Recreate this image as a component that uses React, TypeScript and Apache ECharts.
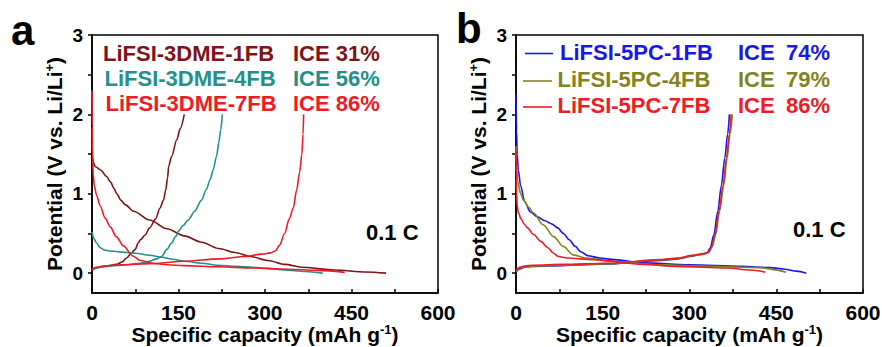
import React, { useEffect, useRef } from "react";
import * as echarts from "echarts";

// ---- Panel a: LiFSI-3DME-xFB (capacity mAh/g, potential V) ----
const a1fbDischarge = [[0, 1.62], [1, 1.45], [3, 1.38], [6, 1.34], [15, 1.3], [25, 1.22], [32, 1.15], [38, 1.07], [43, 1.0], [50, 0.92], [58, 0.86], [72, 0.78], [100, 0.67], [130, 0.56], [160, 0.47], [190, 0.39], [220, 0.31], [248, 0.26], [275, 0.21], [305, 0.16], [335, 0.11], [363, 0.075], [420, 0.04], [475, 0.015], [510, 0]];
const a1fbCharge = [[0, 0.04], [10, 0.07], [25, 0.09], [43, 0.11], [52, 0.14], [60, 0.19], [68, 0.25], [75, 0.3], [80, 0.38], [84, 0.42], [92, 0.48], [100, 0.57], [110, 0.68], [118, 0.82], [124, 0.92], [128, 1.05], [131, 1.2], [133, 1.35], [138, 1.47], [147, 1.68], [153, 1.82], [160, 2.0]];
const a4fbDischarge = [[0, 0.52], [3, 0.44], [8, 0.38], [14, 0.32], [22, 0.29], [30, 0.28], [45, 0.27], [60, 0.26], [75, 0.25], [100, 0.225], [121, 0.2], [140, 0.175], [161, 0.15], [190, 0.125], [219, 0.1], [250, 0.085], [277, 0.075], [305, 0.06], [334, 0.04], [370, 0.02], [400, 0]];
const a4fbCharge = [[0, 0.04], [10, 0.07], [25, 0.085], [50, 0.1], [80, 0.12], [100, 0.15], [112, 0.18], [121, 0.21], [130, 0.3], [138, 0.38], [145, 0.46], [150, 0.53], [158, 0.6], [167, 0.67], [178, 0.78], [190, 0.92], [198, 1.05], [205, 1.18], [210, 1.3], [216, 1.47], [220, 1.65], [223, 1.8], [226, 2.0]];
const a7fbDischarge = [[0, 2.3], [0.5, 1.85], [1, 1.5], [2, 1.25], [4, 1.1], [8, 0.98], [14, 0.85], [23, 0.69], [32, 0.58], [42, 0.46], [55, 0.34], [70, 0.22], [84, 0.16], [104, 0.125], [130, 0.105], [160, 0.095], [220, 0.08], [277, 0.065], [340, 0.05], [392, 0.035], [438, 0.01]];
const a7fbCharge = [[0, 0.04], [5, 0.07], [20, 0.09], [50, 0.105], [100, 0.12], [160, 0.15], [220, 0.18], [265, 0.21], [295, 0.24], [310, 0.255], [318, 0.28], [325, 0.35], [334, 0.5], [342, 0.68], [349, 0.82], [355, 1.05], [360, 1.27], [364, 1.5], [366, 1.75], [367, 2.0]];

// ---- Panel b: LiFSI-5PC-xFB ----
const b1fbDischarge = [[0, 2.25], [1, 1.8], [2, 1.5], [4, 1.3], [8, 1.1], [15, 0.9], [25, 0.77], [37, 0.71], [50, 0.66], [62, 0.62], [72, 0.57], [82, 0.5], [92, 0.42], [102, 0.34], [112, 0.27], [124, 0.22], [145, 0.19], [170, 0.17], [220, 0.13], [300, 0.105], [390, 0.085], [440, 0.07], [465, 0.05], [485, 0.025], [502, 0]];
const b1fbCharge = [[0, 0.01], [5, 0.05], [15, 0.075], [30, 0.085], [80, 0.095], [160, 0.115], [250, 0.16], [280, 0.18], [305, 0.215], [320, 0.235], [330, 0.25], [336, 0.32], [342, 0.48], [349, 0.78], [355, 1.1], [361, 1.45], [366, 1.75], [369, 2.0]];
const b4fbDischarge = [[0, 1.6], [1, 1.35], [3, 1.15], [8, 1.0], [13, 0.92], [22, 0.83], [30, 0.76], [47, 0.61], [65, 0.46], [82, 0.335], [99, 0.23], [122, 0.19], [163, 0.15], [250, 0.105], [336, 0.085], [422, 0.07], [445, 0.045], [467, 0.01]];
const b4fbCharge = [[0, 0.02], [5, 0.06], [15, 0.08], [30, 0.09], [80, 0.1], [160, 0.12], [250, 0.165], [280, 0.185], [305, 0.22], [322, 0.24], [333, 0.26], [339, 0.33], [345, 0.48], [352, 0.78], [359, 1.1], [365, 1.45], [370, 1.75], [374, 2.0]];
const b7fbDischarge = [[0, 1.55], [0.5, 1.2], [1, 1.0], [2, 0.86], [4, 0.76], [9, 0.68], [14, 0.62], [20, 0.57], [30, 0.49], [43, 0.4], [55, 0.32], [65, 0.25], [73, 0.21], [88, 0.19], [134, 0.17], [220, 0.11], [278, 0.085], [365, 0.065], [405, 0.04], [431, 0.012]];
const b7fbCharge = [[0, 0.03], [5, 0.07], [15, 0.09], [30, 0.1], [80, 0.11], [160, 0.125], [250, 0.17], [280, 0.19], [305, 0.225], [322, 0.245], [333, 0.26], [338, 0.33], [344, 0.48], [351, 0.78], [358, 1.1], [364, 1.45], [369, 1.75], [372, 2.0]];

// Axis ticks and labels
const xTickValues = [0, 75, 150, 225, 300, 375, 450, 525, 600];
const xLabelValues = [0, 150, 300, 450, 600];
const yTickValues = [0, 0.5, 1, 1.5, 2, 2.5, 3];
const yLabelValues = [0, 1, 2, 3];

// Legend entries
const panelANames = ["LiFSI-3DME-1FB", "LiFSI-3DME-4FB", "LiFSI-3DME-7FB"];
const panelAIce = ["ICE 31%", "ICE 56%", "ICE 86%"];
const panelBNames = ["LiFSI-5PC-1FB", "LiFSI-5PC-4FB", "LiFSI-5PC-7FB"];
const panelBIce = ["74%", "79%", "86%"];
const rateLabel = "0.1 C";

const FONT = '"Liberation Sans", Arial, sans-serif';
const colorsA = ["#7d1418", "#23908c", "#ee1c25"];
const colorsB = ["#1818e8", "#84841c", "#ee1c25"];

function makeAxes(gridIndex: number) {
  const titleRich = {
    t: { fontFamily: FONT, fontSize: 21, fontWeight: "bold", color: "#000", lineHeight: 23 },
    s: { fontFamily: FONT, fontSize: 13, fontWeight: "bold", color: "#000", verticalAlign: "top", lineHeight: 23 },
  };
  const xAxis = {
    type: "value",
    gridIndex,
    min: 0,
    max: 600,
    name: "{t|Specific capacity (mAh g}{s|-1}{t|)}",
    nameLocation: "middle",
    nameGap: 30,
    nameMoveOverlap: false,
    nameTextStyle: { rich: titleRich },
    axisLine: { show: true, onZero: false, lineStyle: { color: "#000", width: 1.5 } },
    axisTick: { show: true, inside: true, length: 4, customValues: xTickValues, lineStyle: { color: "#000", width: 1.5 } },
    axisLabel: { customValues: xLabelValues, margin: 9, fontFamily: FONT, fontSize: 21, fontWeight: "bold", color: "#000" },
    splitLine: { show: false },
  };
  const yAxis = {
    type: "value",
    gridIndex,
    min: -0.25,
    max: 3,
    name: "{t|Potential (V vs. Li/Li}{s|+}{t|)}",
    nameLocation: "middle",
    nameGap: 26,
    nameMoveOverlap: false,
    nameTextStyle: { rich: titleRich },
    axisLine: { show: true, onZero: false, lineStyle: { color: "#000", width: 1.5 } },
    axisTick: { show: true, inside: false, length: 4, customValues: yTickValues, lineStyle: { color: "#000", width: 1.5 } },
    axisLabel: { customValues: yLabelValues, margin: 9, fontFamily: FONT, fontSize: 19, fontWeight: "bold", color: "#000" },
    splitLine: { show: false },
  };
  return { xAxis, yAxis };
}

function curve(data: number[][], color: string, axisIndex: number) {
  return {
    type: "line",
    xAxisIndex: axisIndex,
    yAxisIndex: axisIndex,
    data,
    showSymbol: false,
    smooth: 0.3,
    smoothMonotone: "x",
    lineStyle: { color, width: 1.6 },
    silent: true,
  };
}

function txt(x: number, y: number, text: string, fill: string, size = 22) {
  return {
    type: "text",
    x,
    y,
    silent: true,
    style: { text, fill, fontFamily: FONT, fontSize: size, fontWeight: "bold", verticalAlign: "middle", align: "left" },
  };
}

export default function App() {
  const ref = useRef<HTMLDivElement>(null);

  useEffect(() => {
    if (!ref.current) return;
    const chart = echarts.init(ref.current, null, { renderer: "svg" });
    const a = makeAxes(0);
    const b = makeAxes(1);

    const aRowsY = [53, 78.5, 103.5];
    const aNameX = [103, 104.5, 105.5];
    const bRowsY = [52.5, 79.5, 105.5];
    const bNameX = [560, 557.5, 557.5];
    const bLineX = [[525, 553], [523, 552], [523, 552]];
    const bLineY = [53.5, 81, 107];

    const graphics: any[] = [
      txt(11, 30, "a", "#000", 42),
      txt(456, 28, "b", "#000", 42),
      txt(366, 232.5, rateLabel, "#000"),
      txt(793, 229.5, rateLabel, "#000"),
    ];
    panelANames.forEach((n, i) => {
      graphics.push(txt(aNameX[i], aRowsY[i], n, colorsA[i]));
      graphics.push(txt(293, aRowsY[i], panelAIce[i], colorsA[i]));
    });
    panelBNames.forEach((n, i) => {
      graphics.push({
        type: "line",
        silent: true,
        shape: { x1: bLineX[i][0], y1: bLineY[i], x2: bLineX[i][1], y2: bLineY[i] },
        style: { stroke: colorsB[i], lineWidth: 1.6 },
      });
      graphics.push(txt(bNameX[i], bRowsY[i], n, colorsB[i]));
      graphics.push(txt(738, bRowsY[i], "ICE", colorsB[i]));
      graphics.push(txt(786, bRowsY[i], panelBIce[i], colorsB[i]));
    });

    const gridBase = {
      top: 35,
      height: 258,
      show: true,
      borderColor: "#000",
      borderWidth: 1.5,
      backgroundColor: "transparent",
      containLabel: false,
      outerBoundsMode: "none",
    };

    chart.setOption({
      animation: false,
      backgroundColor: "#fff",
      grid: [
        { ...gridBase, left: 92, width: 346 },
        { ...gridBase, left: 516, width: 347 },
      ],
      xAxis: [a.xAxis, b.xAxis],
      yAxis: [a.yAxis, b.yAxis],
      series: [
        curve(a1fbDischarge, colorsA[0], 0),
        curve(a1fbCharge, colorsA[0], 0),
        curve(a4fbDischarge, colorsA[1], 0),
        curve(a4fbCharge, colorsA[1], 0),
        curve(a7fbDischarge, colorsA[2], 0),
        curve(a7fbCharge, colorsA[2], 0),
        curve(b1fbDischarge, colorsB[0], 1),
        curve(b1fbCharge, colorsB[0], 1),
        curve(b4fbDischarge, colorsB[1], 1),
        curve(b4fbCharge, colorsB[1], 1),
        curve(b7fbDischarge, colorsB[2], 1),
        curve(b7fbCharge, colorsB[2], 1),
      ],
      graphic: graphics,
    });
    return () => chart.dispose();
  }, []);

  return (
    <div
      ref={ref}
      style={{ position: "fixed", left: 0, top: 0, width: 882, height: 347, background: "#fff" }}
    />
  );
}
